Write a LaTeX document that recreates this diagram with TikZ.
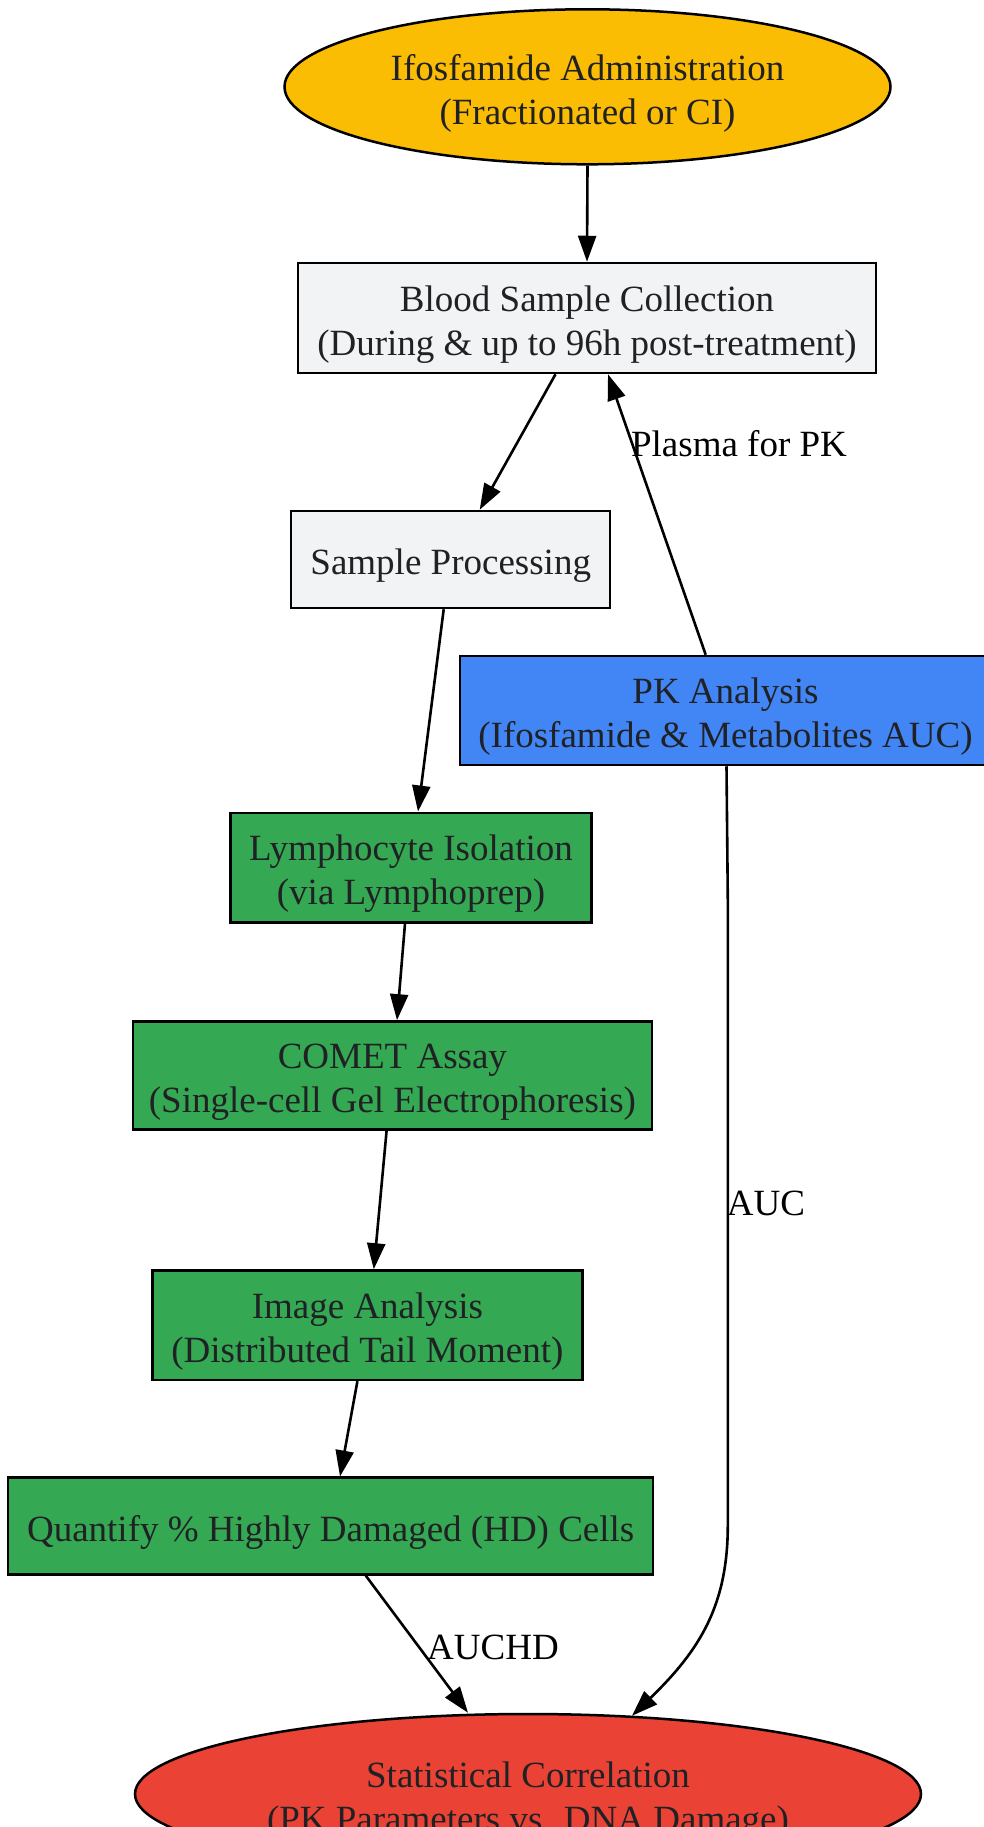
\documentclass[tikz,border=0pt]{standalone}
\usepackage{fontspec}
\setmainfont{Liberation Serif}
\usetikzlibrary{arrows.meta,shapes.geometric}
\definecolor{cyel}{HTML}{FBBC04}
\definecolor{cgray}{HTML}{F1F3F4}
\definecolor{cblue}{HTML}{4285F4}
\definecolor{cgreen}{HTML}{34A853}
\definecolor{cred}{HTML}{EA4335}
\definecolor{txt}{HTML}{202124}
\newcommand{\lowtext}[1]{\raisebox{-6.5pt}[\height][\depth]{\begin{tabular}{@{}c@{}}#1\end{tabular}}}
\begin{document}
\begin{tikzpicture}[x=1pt,y=-1pt,
  every node/.style={font=\fontsize{37}{44}\selectfont, text=txt, align=center, inner sep=0pt},
  boxnode/.style={draw=black, line width=2.5pt, rectangle},
  ellnode/.style={draw=black, line width=2.5pt, ellipse},
  conn/.style={line width=2.6pt, -{Triangle[length=26pt,width=18pt]}},
  elabel/.style={text=black}]
\useasboundingbox (0,0) rectangle (984,1827);

\node[ellnode, fill=cyel, minimum width=606pt, minimum height=155pt] (admin) at (587.5,86.8)
  {\lowtext{Ifosfamide Administration\\(Fractionated or CI)}};
\node[boxnode, fill=cgray, minimum width=578pt, minimum height=110pt] (blood) at (587,318)
  {\lowtext{Blood Sample Collection\\(During \& up to 96h post-treatment)}};
\node[boxnode, fill=cgray, minimum width=319pt, minimum height=97pt] (sample) at (450.7,559.5)
  {\lowtext{Sample Processing}};
\node[boxnode, fill=cblue, minimum width=531pt, minimum height=109pt] (pk) at (725.5,710.5)
  {\lowtext{PK Analysis\\(Ifosfamide \& Metabolites AUC)}};
\node[boxnode, fill=cgreen, minimum width=361pt, minimum height=109.5pt] (lymph) at (411,867.5)
  {\lowtext{Lymphocyte Isolation\\(via Lymphoprep)}};
\node[boxnode, fill=cgreen, minimum width=519pt, minimum height=108pt] (comet) at (392.4,1075.4)
  {\lowtext{COMET Assay\\(Single-cell Gel Electrophoresis)}};
\node[boxnode, fill=cgreen, minimum width=430pt, minimum height=109.5pt] (image) at (367.4,1325.2)
  {\lowtext{Image Analysis\\(Distributed Tail Moment)}};
\node[boxnode, fill=cgreen, minimum width=645pt, minimum height=96.6pt] (quant) at (330.7,1526)
  {\lowtext{Quantify \% Highly Damaged (HD) Cells}};
\node[ellnode, fill=cred, minimum width=786pt, minimum height=160pt] (stat) at (528,1794)
  {\lowtext{Statistical Correlation\\(PK Parameters vs. DNA Damage)}};

\draw[conn] (admin.south) -- (blood.north);
\draw[conn] ([xshift=-31.5pt]blood.south) -- ([xshift=29pt]sample.north);
\draw[conn] ([xshift=-19.8pt]pk.north) -- ([xshift=21pt]blood.south);
\node[elabel] (lplasma) at (739,444) {Plasma for PK};
\draw[conn] ([xshift=-7pt]sample.south) -- ([xshift=7pt]lymph.north);
\draw[conn] ([xshift=-6pt]lymph.south) -- ([xshift=4.6pt]comet.north);
\draw[conn] ([xshift=-5.8pt]comet.south) -- ([xshift=6.4pt]image.north);
\draw[conn] ([xshift=-10pt]image.south) -- ([xshift=9.3pt]quant.north);
\draw[conn] ([xshift=35pt]quant.south) -- ([xshift=-60pt]stat.north);
\node[elabel] (lauchd) at (493,1647) {AUCHD};
\coordinate (bend) at (727.8,1525);
\draw[conn] ([xshift=1pt]pk.south) -- (727.8,900) -- (bend)
  .. controls (727.8,1605) and (700,1650) .. ([xshift=104pt,yshift=-3pt]stat.north);
\node[elabel] (lauc) at (766,1203) {AUC};
\end{tikzpicture}
\end{document}
